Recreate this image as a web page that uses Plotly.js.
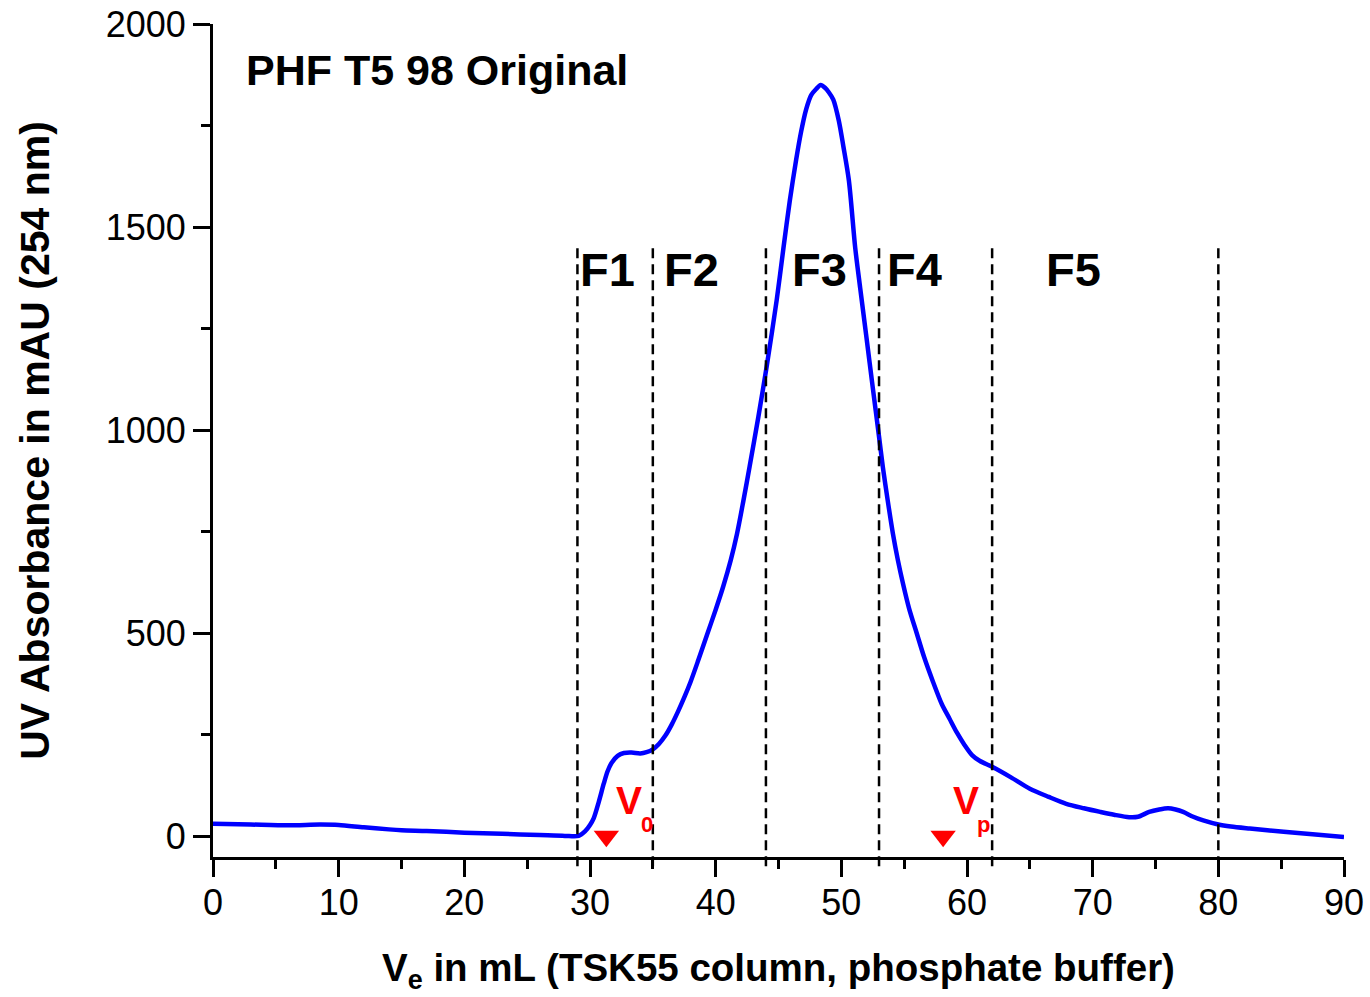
<!DOCTYPE html>
<html>
<head>
<meta charset="utf-8">
<script src="https://cdn.plot.ly/plotly-3.0.1.min.js"></script>
<style>html,body{margin:0;padding:0;background:#fff;}#chart{width:1370px;height:997px;}</style>
</head>
<body>
<div id="chart"></div>
<script>
// Elution volume (mL) and UV absorbance (mAU)
const volume = [0, 3, 6, 8.5, 10, 12, 14, 15, 17, 20, 23, 26, 28, 29.1,
  29.6, 30.0, 30.3, 30.7, 31.1, 31.4, 31.7, 32.2, 32.7, 33.3, 34.0, 34.5,
  35.0, 35.5, 36.0, 36.5, 37.0, 37.5, 38.0, 38.6, 39.3, 40.0, 40.6, 41.2,
  41.7, 42.2, 42.7, 43.4, 44.06, 44.86, 45.4, 45.9, 46.4, 46.8, 47.2, 47.6,
  48.0, 48.36, 48.7, 49.0, 49.36, 49.8, 50.16, 50.6, 51.1, 51.5, 52.0, 52.5,
  53.0, 53.3, 53.7, 54.1, 54.5, 54.9, 55.4, 56.0, 56.6, 57.3, 58.0, 58.6,
  59.2, 59.8, 60.4, 61.0, 62.0, 63.5, 65.0, 66.5, 67.9, 69.3, 70.6, 71.7, 72.9,
  73.6, 74.5, 75.3, 76.0, 76.6, 77.2, 78.0, 78.8, 80.0, 81.0, 82.5, 85.2,
  87.5, 90];
const absorbance = [31, 29, 27, 29, 28, 22, 17, 15, 13, 9, 6, 3, 1, 1,
  12, 28, 45, 85, 130, 160, 180, 198, 205, 206, 204, 207,
  214, 228, 248, 275, 307, 342, 380, 432, 495, 558, 615, 680,
  745, 825, 910, 1033, 1157, 1321, 1450, 1565, 1665, 1735, 1790, 1825,
  1840, 1850, 1843, 1832, 1814, 1762, 1699, 1615, 1450, 1350, 1228, 1105,
  984, 910, 825, 746, 680, 623, 560, 500, 440, 380, 325, 290,
  255, 225, 200, 186, 171, 145, 117, 97, 80, 69, 60, 53, 47,
  48, 60, 66, 69, 66, 60, 48, 39, 29, 24, 19, 11,
  5, -2];

// Fraction boundaries and labels
const fractionBounds = [29, 35, 44, 53, 62, 80];
const fractionNames = ['F1', 'F2', 'F3', 'F4', 'F5'];
const fractionLabelX = [31.4, 38.1, 48.3, 55.8, 68.5];
const fractionLabelY = 1395;
const fractionTop = 1460;

// Void volume and permeation volume markers
const markerVolumes = [31.3, 58.1];
const markerValues = [0, 0];
const markerSubs = ['0', 'p'];

const xTicks = [0, 10, 20, 30, 40, 50, 60, 70, 80, 90];
const yTicks = [0, 500, 1000, 1500, 2000];

const FONT = 'Liberation Sans, Arial, Helvetica, sans-serif';
const yMin = -51, yMax = 2000;

const traces = [
  {
    x: volume, y: absorbance, type: 'scatter', mode: 'lines',
    line: {color: '#0000FF', width: 4.5, shape: 'spline', smoothing: 0.8},
    hoverinfo: 'x+y', showlegend: false
  },
  {
    x: markerVolumes, y: markerValues, type: 'scatter', mode: 'markers',
    marker: {symbol: 'triangle-down', size: 22, color: '#FF0000'},
    cliponaxis: false, showlegend: false
  }
];

const shapes = fractionBounds.map(v => ({
  type: 'line', xref: 'x', yref: 'paper',
  x0: v, x1: v,
  y0: -0.011, y1: (fractionTop - yMin) / (yMax - yMin),
  line: {color: '#000', width: 2.5, dash: '10px,6px'},
  layer: 'above'
}));

const annotations = [];
fractionNames.forEach((name, i) => {
  annotations.push({
    x: fractionLabelX[i], y: fractionLabelY, xref: 'x', yref: 'y',
    text: name, showarrow: false, xanchor: 'center', yanchor: 'middle',
    font: {family: FONT, size: 47, color: '#000', weight: 700}
  });
});
markerVolumes.forEach((v, i) => {
  annotations.push({
    x: v + 1.8, y: 87, xref: 'x', yref: 'y', text: 'V', showarrow: false,
    xanchor: 'center', yanchor: 'middle',
    font: {family: FONT, size: 39, color: '#FF0000', weight: 700}
  });
  annotations.push({
    x: v + 3.25, y: 30, xref: 'x', yref: 'y', text: markerSubs[i], showarrow: false,
    xanchor: 'center', yanchor: 'middle',
    font: {family: FONT, size: 22, color: '#FF0000', weight: 700}
  });
});
annotations.push({
  x: 0.027, y: 0.945, xref: 'paper', yref: 'paper',
  text: 'PHF T5 98 Original', showarrow: false, xanchor: 'left', yanchor: 'middle',
  font: {family: FONT, size: 43, color: '#000', weight: 700}
});

const layout = {
  width: 1370, height: 997,
  margin: {l: 213, r: 26, t: 24, b: 140, pad: 0},
  paper_bgcolor: '#fff', plot_bgcolor: '#fff',
  showlegend: false,
  font: {family: FONT, color: '#000'},
  xaxis: {
    range: [0, 90], tickvals: xTicks, ticktext: xTicks.map(String),
    showgrid: false, zeroline: false,
    showline: true, linecolor: '#000', linewidth: 3,
    ticks: 'outside', ticklen: 17, tickwidth: 3, tickcolor: '#000',
    ticklabelstandoff: -5,
    minor: {dtick: 5, tick0: 0, ticks: 'outside', ticklen: 9, tickwidth: 3, tickcolor: '#000', showgrid: false},
    tickfont: {family: FONT, size: 36, color: '#000'},
    title: {text: 'V<sub>e</sub> in mL (TSK55 column, phosphate buffer)', standoff: 32,
      font: {family: FONT, size: 38.5, color: '#000', weight: 700}}
  },
  yaxis: {
    range: [yMin, yMax], tickvals: yTicks, ticktext: yTicks.map(String),
    showgrid: false, zeroline: false,
    showline: true, linecolor: '#000', linewidth: 3,
    ticks: 'outside', ticklen: 17, tickwidth: 3, tickcolor: '#000',
    minor: {dtick: 250, tick0: 0, ticks: 'outside', ticklen: 9, tickwidth: 3, tickcolor: '#000', showgrid: false},
    tickfont: {family: FONT, size: 36, color: '#000'},
    title: {text: 'UV Absorbance in mAU (254 nm)', standoff: 44,
      font: {family: FONT, size: 41, color: '#000', weight: 700}}
  },
  shapes: shapes,
  annotations: annotations
};

Plotly.newPlot('chart', traces, layout, {staticPlot: true});
</script>
</body>
</html>
